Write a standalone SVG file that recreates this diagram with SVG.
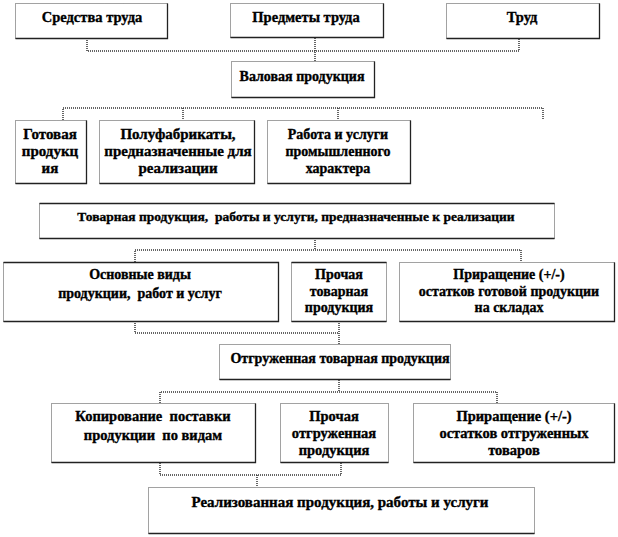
<svg xmlns="http://www.w3.org/2000/svg" width="618" height="537" viewBox="0 0 618 537">
<style>
  .bx { fill: #ffffff; stroke: #444; stroke-width: 1; stroke-dasharray: 1 1; }
  .sh { fill: none; stroke: #222; stroke-width: 1.3; }
  .cn { fill: none; stroke: #333; stroke-width: 1.5; stroke-dasharray: 1 1; }
  .t { font-family: 'Liberation Serif', 'Times New Roman', 'DejaVu Serif', serif; font-size: 13.5px; font-weight: bold; fill: #000; text-anchor: middle; stroke: #000; stroke-width: 0.35; }
  .s14 { font-size: 14px; }
  .s145 { font-size: 14.5px; }
  .s15 { font-size: 15px; }
</style>
<rect width="618" height="537" fill="#ffffff"/>
<g id="connectors">
  <path class="cn" d="M87,38 V51 H519 V38 M315,38 V61"/>
  <path class="cn" d="M63,120 V108 H543 V120 M183,108 V120 M338,108 V120"/>
  <path class="cn" d="M315,238 V250 M135,262 V250 H521 V262"/>
  <path class="cn" d="M135,321 V333 H339 M339,321 V344"/>
  <path class="cn" d="M339,380 V392 M160,403 V392 H497 V403"/>
  <path class="cn" d="M160,463 V475 H341 V463 M257,475 V487"/>
</g>
<g class="t">
<g id="n-sredstva" class="s145">
  <rect class="bx" x="15.5" y="3.5" width="152" height="35"/>
  <path class="sh" d="M15.5,38.5 H167.5 V3.5"/>
  <text x="92" y="22">Средства труда</text>
</g>
<g id="n-predmety" class="s145">
  <rect class="bx" x="230.5" y="3.5" width="153" height="34"/>
  <path class="sh" d="M230.5,37.5 H383.5 V3.5"/>
  <text x="306" y="22">Предметы труда</text>
</g>
<g id="n-trud" class="s145">
  <rect class="bx" x="446.5" y="3.5" width="153" height="35"/>
  <path class="sh" d="M446.5,38.5 H599.5 V3.5"/>
  <text x="522" y="22">Труд</text>
</g>
<g id="n-valovaya" class="s14">
  <rect class="bx" x="231.5" y="61.5" width="143" height="36"/>
  <path class="sh" d="M231.5,97.5 H374.5 V61.5"/>
  <text x="302" y="81">Валовая продукция</text>
</g>
<g id="n-gotovaya" class="s15">
  <rect class="bx" x="15.5" y="120.5" width="71" height="63"/>
  <path class="sh" d="M15.5,183.5 H86.5 V120.5"/>
  <text x="50" y="139">Готовая</text>
  <text x="50" y="156">продукц</text>
  <text x="50" y="173">ия</text>
</g>
<g id="n-polufabrikaty" class="s15">
  <rect class="bx" x="99.5" y="120.5" width="155" height="63"/>
  <path class="sh" d="M99.5,183.5 H254.5 V120.5"/>
  <text x="178" y="139">Полуфабрикаты,</text>
  <text x="178" y="156">предназначенные для</text>
  <text x="178" y="173">реализации</text>
</g>
<g id="n-rabota" class="s14">
  <rect class="bx" x="267.5" y="120.5" width="143" height="63"/>
  <path class="sh" d="M267.5,183.5 H410.5 V120.5"/>
  <text x="338" y="139">Работа и услуги</text>
  <text x="338" y="156">промышленного</text>
  <text x="338" y="173">характера</text>
</g>
<g id="n-tovarnaya">
  <rect class="bx" x="39.5" y="203.5" width="515" height="35"/>
  <path class="sh" d="M39.5,203.5 H554.5 M39.5,238.5 H554.5"/>
  <text x="296" y="221" xml:space="preserve">Товарная продукция,  работы и услуги, предназначенные к реализации</text>
</g>
<g id="n-osnovnye" class="s14">
  <rect class="bx" x="3.5" y="262.5" width="275" height="59"/>
  <path class="sh" d="M3.5,262.5 H278.5 V321.5 H3.5"/>
  <text x="140" y="279">Основные виды</text>
  <text x="140" y="298" xml:space="preserve">продукции,  работ и услуг</text>
</g>
<g id="n-prochaya-tov" class="s14">
  <rect class="bx" x="291.5" y="262.5" width="95" height="59"/>
  <path class="sh" d="M291.5,262.5 H386.5 M291.5,321.5 H386.5"/>
  <text x="339" y="279">Прочая</text>
  <text x="339" y="296">товарная</text>
  <text x="339" y="312">продукция</text>
</g>
<g id="n-prirashchenie1" class="s14">
  <rect class="bx" x="399.5" y="262.5" width="215" height="59"/>
  <path class="sh" d="M399.5,321.5 H614.5 V262.5"/>
  <text x="509" y="279">Приращение (+/-)</text>
  <text x="509" y="296">остатков готовой продукции</text>
  <text x="509" y="312">на складах</text>
</g>
<g id="n-otgruzhennaya" class="s14">
  <rect class="bx" x="219.5" y="344.5" width="231" height="35"/>
  <path class="sh" d="M219.5,379.5 H450.5"/>
  <text x="340" y="363">Отгруженная товарная продукция</text>
</g>
<g id="n-kopirovanie" class="s145">
  <rect class="bx" x="51.5" y="403.5" width="204" height="59"/>
  <path class="sh" d="M51.5,462.5 H255.5 V403.5"/>
  <text x="153" y="421" xml:space="preserve">Копирование  поставки</text>
  <text x="153" y="440" xml:space="preserve">продукции  по видам</text>
</g>
<g id="n-prochaya-otgr" class="s145">
  <rect class="bx" x="280.5" y="403.5" width="108" height="59"/>
  <path class="sh" d="M280.5,462.5 H388.5"/>
  <text x="334" y="421">Прочая</text>
  <text x="334" y="438">отгруженная</text>
  <text x="334" y="455">продукция</text>
</g>
<g id="n-prirashchenie2" class="s145">
  <rect class="bx" x="413.5" y="403.5" width="201" height="59"/>
  <path class="sh" d="M413.5,462.5 H614.5 V403.5"/>
  <text x="514" y="421">Приращение (+/-)</text>
  <text x="514" y="438">остатков отгруженных</text>
  <text x="514" y="455">товаров</text>
</g>
<g id="n-realizovannaya" class="s15">
  <rect class="bx" x="148.5" y="487.5" width="386" height="46"/>
  <path class="sh" d="M148.5,533.5 H534.5"/>
  <text x="340" y="507">Реализованная продукция, работы и услуги</text>
</g>
</g>
</svg>
